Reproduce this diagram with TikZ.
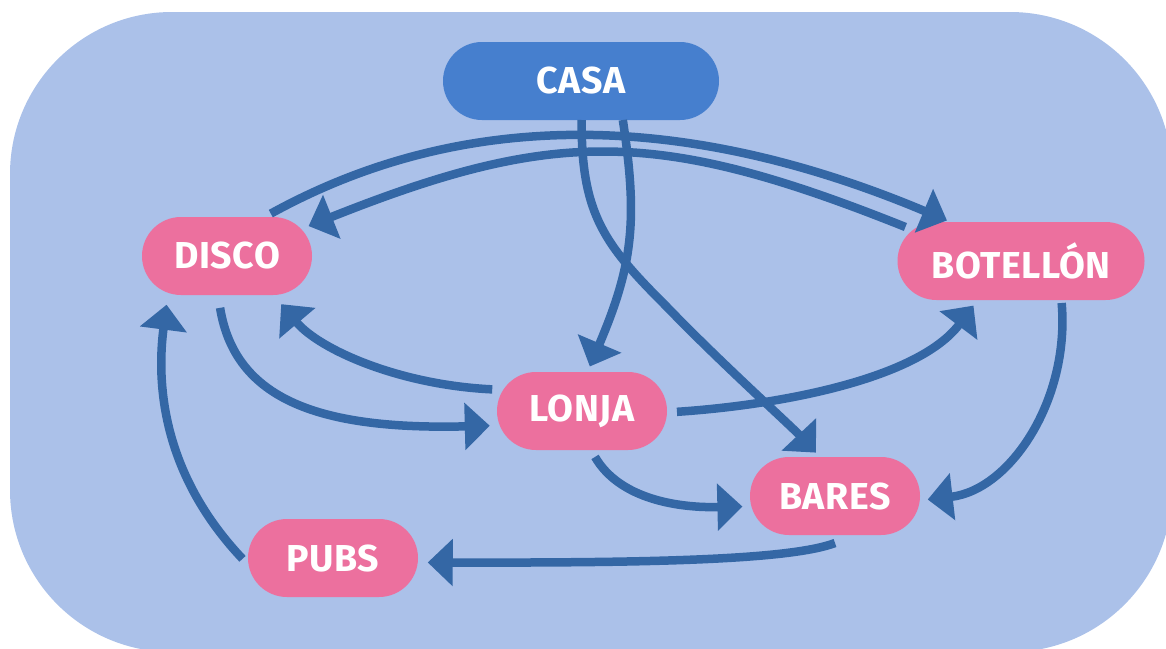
\documentclass[tikz,border=0pt]{standalone}
\usepackage{fontspec}
\setmainfont{Fira Sans}[LetterSpace=1.5]
\usetikzlibrary{arrows.meta,shapes.misc}
\definecolor{panel}{RGB}{171,193,233}
\definecolor{place}{RGB}{236,112,158}
\definecolor{home}{RGB}{70,127,206}
\definecolor{route}{RGB}{52,103,165}
\begin{document}
\begin{tikzpicture}[x=1pt,y=-1pt,
  box/.style={rounded rectangle, fill=place, text=white,
    font=\fontsize{37.5}{38}\selectfont\bfseries,
    minimum height=78pt, minimum width=170pt, inner sep=0pt, outer sep=0pt},
  link/.style={draw=route, line width=8.5pt,
    -{Triangle[length=25pt,width=46pt]}}]
\useasboundingbox (0,0) rectangle (1166,648);
% panel behind everything
\begin{scope}
  \clip (0,0) rectangle (1166,648);
  \fill[panel, rounded corners=162pt] (10,12) rectangle (1172,652);
\end{scope}

% places
\node[box, fill=home, minimum width=276pt] (casa) at (581,81) {CASA};
\node[box] (disco) at (227,256) {DISCO};
\node[box, minimum width=247pt] (bot) at (1021,261) {BOTELLÓN};
\node[box] (lonja) at (582,411) {LONJA};
\node[box] (bares) at (835,496) {BARES};
\node[box] (pubs) at (333,558) {PUBS};

% routes
\draw[link, shorten <=7pt, shorten >=4pt]
  (disco.46) .. controls (468,105) and (691,113) .. (bot.151);
\draw[link, shorten <=8pt, shorten >=8pt]
  (bot.164) .. controls (658,128) and (555,128) .. (disco.20);
\draw[link, shorten >=6pt]
  (casa.-43) .. controls (638,220) and (633,265) .. (lonja.82);
\draw[link, shorten >=6pt]
  (casa.-89) .. controls (581,215) and (605,245) .. (667,307)
  .. controls (720,362) and (790,425) .. (bares.111);
\draw[link, shorten <=13pt, shorten >=10pt]
  (disco.-103) .. controls (235,400) and (320,430) .. (lonja.190);
\draw[link, shorten <=11pt, shorten >=12pt]
  (lonja.165) .. controls (400,385) and (320,350) .. (disco.-40);
\draw[link, shorten <=10pt, shorten >=7pt]
  (lonja.-1) .. controls (780,405) and (918,379) .. (bot.222);
\draw[link, shorten <=3pt, shorten >=8pt]
  (bot.-44) .. controls (1070,400) and (1010,490) .. (bares.-3);
\draw[link, shorten <=8pt, shorten >=9pt]
  (lonja.-77) .. controls (620,500) and (680,508) .. (bares.187);
\draw[link, shorten >=10pt]
  ([yshift=-8pt]bares.south) .. controls (790,560) and (650,563) .. (pubs.-3);
\draw[link, shorten <=9pt, shorten >=12pt]
  (pubs.185) .. controls (168,480) and (155,394) .. (disco.212);
\end{tikzpicture}
\end{document}
